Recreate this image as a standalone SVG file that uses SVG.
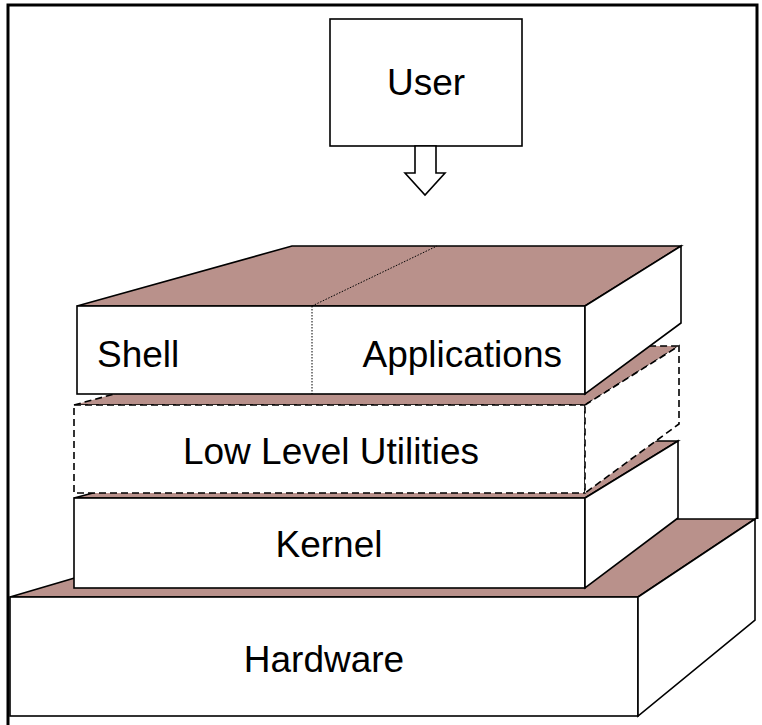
<svg xmlns="http://www.w3.org/2000/svg" width="762" height="725" viewBox="0 0 762 725">
<style>
.face{fill:#ffffff;stroke:#000;stroke-width:1.6;stroke-linejoin:miter}
.top{fill:#b9918b;stroke:#000;stroke-width:1.6;stroke-linejoin:miter}
.dash{stroke-dasharray:7,4}
.lbl{font-family:"Liberation Sans",Arial,sans-serif;font-size:37px;fill:#000}
.frame{fill:none;stroke:#000;stroke-width:3}
</style>
<rect width="762" height="725" fill="#ffffff"/>
<g id="frame">
<polyline class="frame" points="8,725 8,5 757,5 757,519"/>
</g>
<g id="hardware">
<polygon class="top" points="10,597 275,519 755,519 638,597"/>
<rect class="face" x="10" y="597" width="628" height="119"/>
<polygon class="face" points="638,597 755,519 755,620 638,716"/>
<text class="lbl" x="324" y="672" text-anchor="middle">Hardware</text>
</g>
<g id="kernel">
<polygon class="top" points="74,498 290,441 678,441 585,498"/>
<rect class="face" x="74" y="498" width="511" height="90"/>
<polygon class="face" points="585,498 678,441 678,518 585,588"/>
<text class="lbl" x="329" y="557" text-anchor="middle">Kernel</text>
</g>
<g id="low-level-utilities">
<polygon class="top dash" points="74,405 290,346 679,346 585,405"/>
<rect class="face dash" x="74" y="405" width="511" height="88"/>
<polygon class="face dash" points="585,405 679,346 679,424 585,493"/>
<text class="lbl" x="331" y="464" text-anchor="middle">Low Level Utilities</text>
</g>
<g id="shell-applications">
<polygon class="top" points="77,306 292,246 681,246 585,306"/>
<rect class="face" x="77" y="306" width="508" height="88"/>
<polygon class="face" points="585,306 681,246 681,323 585,394"/>
<line x1="312" y1="306" x2="312" y2="394" stroke="#000" stroke-width="1" stroke-dasharray="1.5,1.5"/>
<line x1="312" y1="306" x2="437" y2="246" stroke="#000" stroke-width="1" stroke-dasharray="1.5,1.5"/>
<text class="lbl" x="97" y="367">Shell</text>
<text class="lbl" x="562" y="367" text-anchor="end">Applications</text>
</g>
<g id="user">
<rect class="face" x="330" y="19" width="192" height="127"/>
<text class="lbl" x="426" y="95" text-anchor="middle">User</text>
</g>
<g id="connectors">
<polygon class="face" points="415,146 436,146 436,173 445,173 425,195 405,173 415,173"/>
</g>
</svg>
